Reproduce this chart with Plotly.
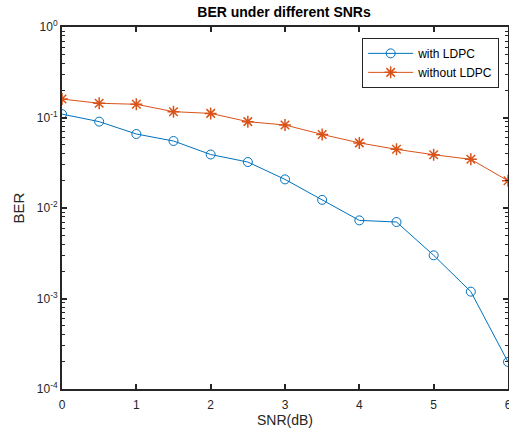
import plotly.graph_objects as go

snr = [0, 0.5, 1, 1.5, 2, 2.5, 3, 3.5, 4, 4.5, 5, 5.5, 6]
ber_ldpc = [0.109, 0.090, 0.0657, 0.055, 0.039, 0.0322, 0.0207, 0.0123, 0.0073, 0.0070, 0.0030, 0.00119, 0.000199]
ber_no_ldpc = [0.160, 0.1436, 0.140, 0.116, 0.111, 0.090, 0.0826, 0.065, 0.0524, 0.0445, 0.0388, 0.0345, 0.020]

y_tickvals = [1e-4, 1e-3, 1e-2, 1e-1, 1e0]
y_ticktext = ["10<sup>-4</sup>", "10<sup>-3</sup>", "10<sup>-2</sup>", "10<sup>-1</sup>", "10<sup>0</sup>"]
x_tickvals = [0, 1, 2, 3, 4, 5, 6]

minor_vals = [m * 10 ** e for e in range(-4, 0) for m in range(2, 10)]

FONT = "Liberation Sans, Arial, sans-serif"
AX = "#262626"

fig = go.Figure()
fig.add_trace(go.Scatter(
    x=snr, y=ber_ldpc, name="with LDPC", mode="lines+markers",
    line=dict(color="#0072BD", width=1),
    marker=dict(symbol="circle-open", size=9, color="#0072BD", line=dict(width=1)),
))
fig.add_trace(go.Scatter(
    x=snr, y=ber_no_ldpc, name="without LDPC", mode="lines+markers",
    line=dict(color="#D95319", width=1),
    marker=dict(symbol="asterisk-open", size=10, color="#D95319", line=dict(width=1.5, color="#D95319")),
))

fig.update_layout(
    width=509, height=434,
    paper_bgcolor="white", plot_bgcolor="white",
    margin=dict(l=62, r=1, t=27, b=45, autoexpand=False),
    font=dict(family=FONT, size=12, color=AX),
    title=dict(text="<b>BER under different SNRs</b>", x=0.558, xanchor="center",
               y=0.972, yanchor="middle", font=dict(size=14, color="black")),
    showlegend=True,
    legend=dict(x=0.673, y=0.97, xanchor="left", yanchor="top",
                bordercolor=AX, borderwidth=1, bgcolor="white",
                itemwidth=45,
                font=dict(size=12, color="black"), tracegroupgap=0),
)
fig.update_xaxes(
    range=[0, 6], tickvals=x_tickvals, ticks="inside", ticklen=5, tickwidth=1.5,
    tickcolor=AX, showline=True, linecolor=AX, linewidth=2, mirror="ticks",
    showgrid=False, zeroline=False, automargin=False, ticklabeloverflow="allow",
    ticklabelstandoff=4,
    title=dict(text="SNR(dB)", font=dict(size=14, color=AX), standoff=4),
    tickfont=dict(size=12, color=AX),
)
fig.update_yaxes(
    type="log", range=[-4, 0], tickvals=y_tickvals, ticktext=y_ticktext,
    ticks="inside", ticklen=5, tickwidth=1.5, tickcolor=AX,
    showline=True, linecolor=AX, linewidth=2, mirror="ticks",
    showgrid=False, zeroline=False, automargin=False, ticklabeloverflow="allow",
    minor=dict(tickvals=minor_vals, ticks="inside", ticklen=3, tickwidth=1, tickcolor=AX, showgrid=False),
    title=dict(text="BER", font=dict(size=15, color=AX), standoff=9),
    tickfont=dict(size=12, color=AX),
)

fig.write_html(
    "out.html",
    config={"displayModeBar": False},
    post_script="document.body.style.margin='0';document.body.style.overflow='hidden';",
)
